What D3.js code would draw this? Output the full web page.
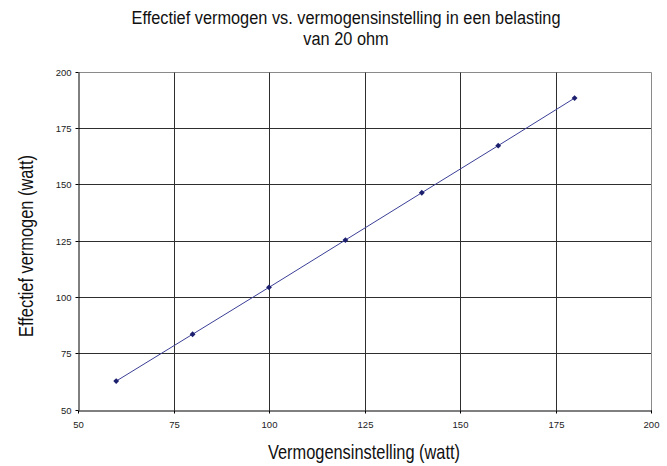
<!DOCTYPE html>
<html><head><meta charset="utf-8">
<script src="https://cdn.jsdelivr.net/npm/d3@7"></script>
<style>
body{margin:0;background:#fff;}
.narrow{font-family:"Liberation Sans",Arial,sans-serif;}
.tick text{font-family:"Liberation Sans",Arial,sans-serif;font-size:9.5px;fill:#222;}
</style></head>
<body><svg id="c" width="667" height="466"></svg>
<script>
const xValues = [60, 80, 100, 120, 140, 160, 180];
const yValues = [62.6, 83.4, 104.2, 125.2, 146.2, 167.1, 188.2];
const xTicks = [50, 75, 100, 125, 150, 175, 200];
const yTicks = [50, 75, 100, 125, 150, 175, 200];
const titleLines = ["Effectief vermogen vs. vermogensinstelling in een belasting", "van 20 ohm"];
const xLabel = "Vermogensinstelling (watt)";
const yLabel = "Effectief vermogen (watt)";

const svg = d3.select("#c");
const L = 78, R = 651, T = 71.5, B = 409.5;
const x = d3.scaleLinear().domain([50, 200]).range([L, R]);
const y = d3.scaleLinear().domain([50, 200]).range([B, T]);
const cx = v => Math.round(x(v)) + 0.5;
const cy = v => Math.round(y(v)) + 0.5;

// gridlines
svg.append("g").selectAll("line").data(yTicks.slice(1)).join("line")
  .attr("x1", cx(50)).attr("x2", cx(200)).attr("y1", d => cy(d)).attr("y2", d => cy(d))
  .attr("stroke", d => d === 200 ? "#8a8a8a" : "#2e2e2e").attr("stroke-width", 1);
svg.append("g").selectAll("line").data(xTicks.slice(1)).join("line")
  .attr("y1", cy(50)).attr("y2", cy(200)).attr("x1", d => cx(d)).attr("x2", d => cx(d))
  .attr("stroke", d => d === 200 ? "#8a8a8a" : "#2e2e2e").attr("stroke-width", 1);

// axes
const xAxis = d3.axisBottom(x).tickValues(xTicks).tickSize(3).tickSizeOuter(0).tickPadding(8).tickFormat(d3.format("d"));
const yAxis = d3.axisLeft(y).tickValues(yTicks).tickSize(3).tickSizeOuter(0).tickPadding(4).tickFormat(d3.format("d"));
const gx = svg.append("g").attr("transform", `translate(0.5,${Math.round(y(50))+0.5})`).call(xAxis);
const gy = svg.append("g").attr("transform", `translate(${Math.round(x(50))+0.5},0.5)`).call(yAxis);
[gx, gy].forEach(g => { g.select(".domain").attr("stroke", "#000"); g.selectAll(".tick line").attr("stroke", "#000"); });
gx.selectAll(".tick").attr("transform", d => `translate(${Math.round(x(d))},0)`);
gy.selectAll(".tick").attr("transform", d => `translate(0,${Math.round(y(d))})`);

// line and markers
const pts = xValues.map((v, i) => [v, yValues[i]]);
svg.append("path").datum(pts)
  .attr("d", d3.line().x(d => x(d[0])).y(d => y(d[1])))
  .attr("fill", "none").attr("stroke", "#3b3f96").attr("stroke-width", 1);
svg.append("g").selectAll("path").data(pts).join("path")
  .attr("d", d3.symbol().type(d3.symbolSquare).size(17))
  .attr("transform", d => `translate(${x(d[0])},${y(d[1])}) rotate(45)`)
  .attr("fill", "#1c1f6e");

// narrow-looking text via horizontal scaling
function narrowText(tx, ty, rot, size, sx, str) {
  const g = svg.append("g").attr("transform", `translate(${tx},${ty}) rotate(${rot}) scale(${sx},1)`);
  g.append("text").attr("class","narrow").attr("text-anchor","middle")
    .attr("font-size", size).attr("fill","#111").text(str);
}
narrowText(346, 23.5, 0, 19, 0.86, titleLines[0]);
narrowText(346, 45, 0, 19, 0.86, titleLines[1]);
narrowText(364, 459, 0, 20, 0.82, xLabel);
narrowText(33, 246, -90, 20, 0.82, yLabel);
</script></body></html>
